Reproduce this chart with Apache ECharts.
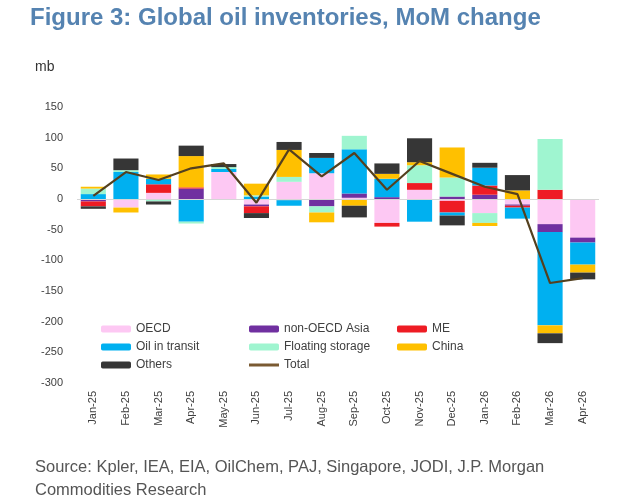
<!DOCTYPE html>
<html>
<head>
    <meta charset="utf-8">
    <title>Global oil inventories</title>
    <script src="https://cdn.jsdelivr.net/npm/echarts@6/dist/echarts.min.js"></script>
    <style>
        html, body { margin: 0; padding: 0; background: #fff; }
        #main { width: 624px; height: 502px; }
    </style>
</head>
<body>
<div id="main"></div>
<script>
    // months on the x axis
    var months = ['Jan-25', 'Feb-25', 'Mar-25', 'Apr-25', 'May-25', 'Jun-25', 'Jul-25', 'Aug-25',
        'Sep-25', 'Oct-25', 'Nov-25', 'Dec-25', 'Jan-26', 'Feb-26', 'Mar-26', 'Apr-26'];

    // MoM change by component, mb
    var oecd     = [-1, -14, 10, 0, 44, -9, 28, 42, 2, -39, 15, -3, -23, -9, -41, -63];
    var nonOecd  = [-3, 0, 0, 17, 0, -3, 0, -12, 7, 3, 0, 4, 7, -2, -13, -8];
    var me       = [-8, 0, 14, 2, 0, -11, -2, 0, 0, -6, 11, -19, 15, -3, 15, 0];
    var transit  = [8, 44, 9, -37, 5, 4, -9, 25, 72, 30, -37, -5, 29, -18, -152, -36];
    var floating = [9, 3, -4, -3, 3, 2, 8, -10, 22, 0, 29, 31, -16, 0, 83, 0];
    var china    = [3, -8, 7, 51, 0, 19, 44, -16, -11, 8, 5, 49, -5, 14, -13, -13];
    var others   = [-4, 19, -5, 17, 5, -8, 13, 8, -19, 17, 39, -16, 8, 25, -16, -11];
    var total    = [5, 44, 31, 50, 58, -6, 81, 37, 75, 15, 62, 41, 20, 8, -137, -129];

    var font = 'Liberation Sans, Arial, sans-serif';

    function barSeries(name, data, color) {
        return {
            name: name,
            type: 'bar',
            stack: 'inv',
            barCategoryGap: '23%',
            data: data,
            itemStyle: { color: color }
        };
    }

    var series = [
        barSeries('OECD', oecd, '#fdc8f3'),
        barSeries('non-OECD Asia', nonOecd, '#7030a0'),
        barSeries('ME', me, '#ee1c24'),
        barSeries('Oil in transit', transit, '#00b0f0'),
        barSeries('Floating storage', floating, '#9ff5d0'),
        barSeries('China', china, '#ffc000'),
        barSeries('Others', others, '#363636'),
        {
            name: 'Total',
            type: 'line',
            data: total,
            symbol: 'none',
            z: 5,
            lineStyle: { color: '#54401f', width: 2.2 },
            itemStyle: { color: '#7a5a32' },
            // zero line
            markLine: {
                silent: true,
                symbol: 'none',
                label: { show: false },
                lineStyle: { color: '#d6d6d6', width: 1, type: 'solid' },
                data: [{ yAxis: 0 }]
            }
        }
    ];

    var legendBase = {
        orient: 'vertical',
        itemWidth: 30,
        itemHeight: 7,
        itemGap: 6,
        textStyle: { fontFamily: font, fontSize: 12, color: '#404040' }
    };

    var option = {
        animation: false,
        textStyle: { fontFamily: font },
        title: {
            text: 'Figure 3: Global oil inventories, MoM change',
            left: 25,
            top: 1,
            textStyle: { fontFamily: font, fontSize: 24, fontWeight: 'bold', color: '#5583b1' }
        },
        legend: [
            Object.assign({ left: 96, top: 318, data: ['OECD', 'Oil in transit', 'Others'] }, legendBase),
            Object.assign({ left: 244, top: 318, data: ['non-OECD Asia', 'Floating storage'] }, legendBase),
            Object.assign({ left: 392, top: 318, data: ['ME', 'China'] }, legendBase),
            // total shown as a thin line swatch
            Object.assign({}, legendBase, {
                left: 244, top: 354, itemHeight: 3,
                data: [{ name: 'Total', icon: 'rect' }]
            })
        ],
        grid: { left: 77, right: 25, top: 107, bottom: 119 },
        xAxis: {
            type: 'category',
            data: months,
            axisLine: { show: false },
            axisTick: { show: false },
            axisLabel: { rotate: 90, interval: 0, margin: 8, fontSize: 11, color: '#404040' }
        },
        yAxis: {
            type: 'value',
            min: -300,
            max: 150,
            interval: 50,
            splitLine: { show: false },
            axisLine: { show: false },
            axisTick: { show: false },
            axisLabel: { margin: 14, fontSize: 11, color: '#404040' }
        },
        graphic: [
            {
                type: 'text', left: 35, top: 60,
                style: { text: 'mb', font: '14px ' + font, fill: '#333' }
            },
            {
                type: 'text', left: 35, top: 456,
                style: {
                    text: 'Source: Kpler, IEA, EIA, OilChem, PAJ, Singapore, JODI, J.P. Morgan\nCommodities Research',
                    font: '16.5px ' + font, fill: '#555', lineHeight: 23
                }
            }
        ],
        series: series
    };

    var chart = echarts.init(document.getElementById('main'));
    chart.setOption(option);
</script>
</body>
</html>
